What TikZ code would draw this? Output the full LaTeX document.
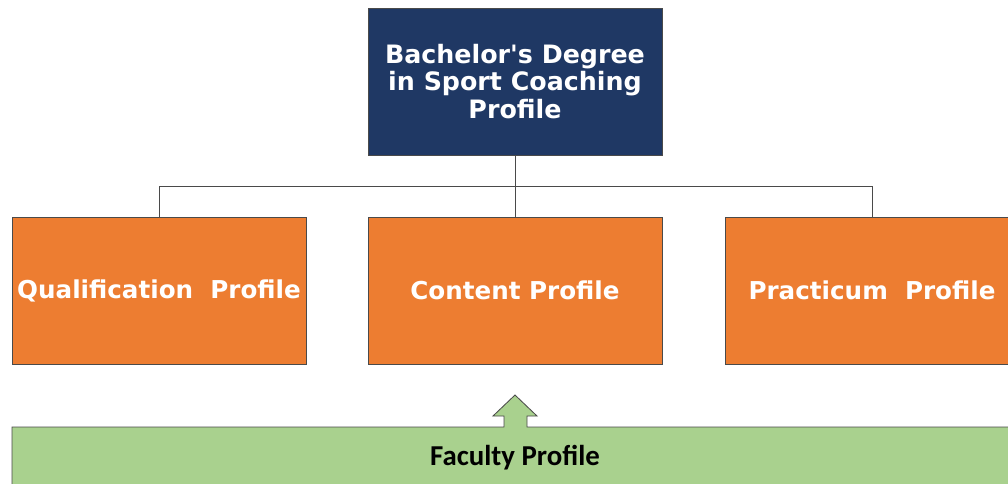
\documentclass[tikz,border=0pt]{standalone}
\usepackage{fontspec}
\newfontfamily\verdanafont{DejaVu Sans}
\newfontfamily\calibrifont{Carlito}
\usetikzlibrary{positioning}
\definecolor{navy}{HTML}{1F3864}
\definecolor{orangebox}{HTML}{ED7D31}
\definecolor{greenbar}{HTML}{A9D18E}
\definecolor{edgegray}{HTML}{4A4A4A}
\begin{document}
\begin{tikzpicture}[x=0.025cm,y=-0.025cm]%
            \useasboundingbox (0,0) rectangle (1008,483); %%
            \tikzstyle{profilebox}=[draw=edgegray,line width=0.6pt,minimum width=7.35cm,minimum height=3.675cm,inner sep=0pt,text=white,font=\verdanafont\bfseries\fontsize{17.5}{20}\selectfont] %%
            \tikzstyle{branch}=[draw=edgegray,line width=0.7pt] %%
            \node[profilebox,fill=navy,align=center,font=\verdanafont\bfseries\fontsize{18}{19.8}\selectfont] (degree) at (515,81.5) {Bachelor's Degree\\in Sport Coaching\\Profile}; %%
            \node[profilebox,fill=orangebox] (qualif) at (159,290.5) {Qualification~~Profile}; %%
            \node[profilebox,fill=orangebox] (content) at (515,290.5) {Content Profile}; %%
            \node[profilebox,fill=orangebox] (practicum) at (872,290.5) {Practicum~~Profile}; %%
            \coordinate (split) at (515,186); %%
            \draw[branch] (degree.south)--(split); %%
            \draw[branch] (qualif.north)|-(split); %%
            \draw[branch] (practicum.north)|-(split); %%
            \draw[branch] (split)--(content.north); %%
            % faculty bar with its block arrow
            \draw[draw=edgegray,line width=0.6pt,fill=greenbar] (12,495)--(12,427)--(504,427)--(504,416)--(493,416)--(515,395)--(537,416)--(527,416)--(527,427)--(1020,427)--(1020,495)--cycle; %%
            \node[font=\calibrifont\bfseries\fontsize{20.5}{22}\selectfont,text=black] (faculty) at (515,458) {Faculty Profile}; %%
        \end{tikzpicture}
\end{document}
